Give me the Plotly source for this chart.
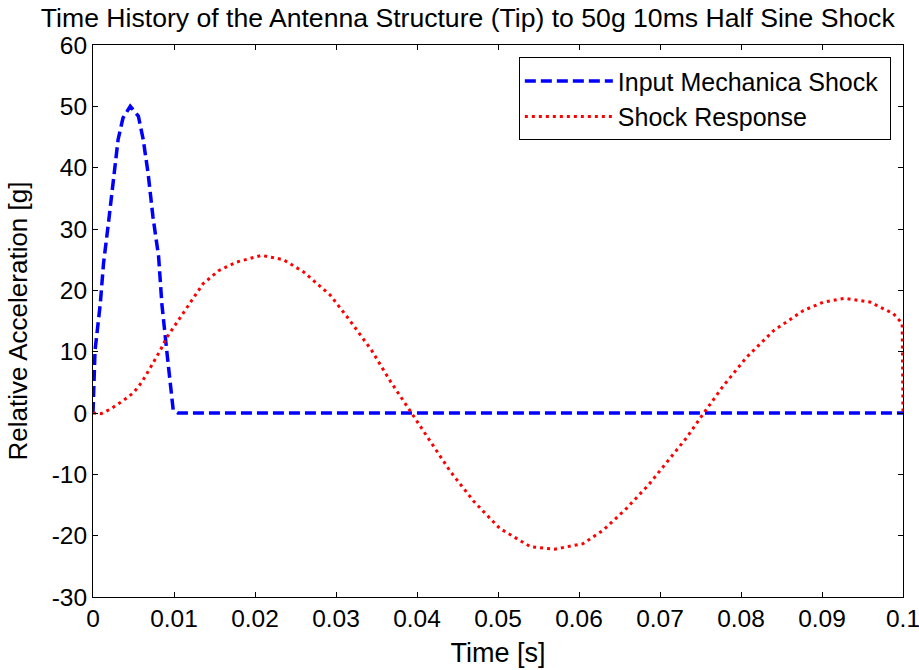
import plotly.graph_objects as go

# Input mechanical shock (half sine)
t_input = [0, 0.00025, 0.0009, 0.0013, 0.0019, 0.0025, 0.0031, 0.0037, 0.0046,
           0.0056, 0.0062, 0.0068, 0.0074, 0.0081, 0.0085, 0.0091, 0.0095,
           0.0099, 0.0105, 0.1]
a_input = [0, 10.2, 17.8, 24.4, 30.9, 38.0, 44.6, 48.1, 50.0,
           48.4, 44.6, 39.1, 32.0, 25.5, 17.8, 10.2, 4.7,
           0.5, 0, 0]

# Shock response
t_resp = [0, 0.001, 0.0021, 0.0037, 0.005, 0.006, 0.007, 0.0083, 0.0091,
          0.0105, 0.0116, 0.0136, 0.0155, 0.0177, 0.0208, 0.0235, 0.026,
          0.0293, 0.0317, 0.0344, 0.0367, 0.0393, 0.0416, 0.0441, 0.047,
          0.0502, 0.054, 0.057, 0.0605, 0.063, 0.0659, 0.0686, 0.0708,
          0.0733, 0.0753, 0.0778, 0.0807, 0.084, 0.0877, 0.0902, 0.0928,
          0.0959, 0.0988, 0.0999, 0.1]
a_resp = [0, -0.1, 0.6, 2.0, 3.3, 5.0, 7.2, 10.2, 12.3,
          15.1, 17.3, 21.1, 23.2, 24.6, 25.7, 25.0, 23.0,
          19.2, 15.1, 10.2, 5.2, 0.0, -4.6, -9.5, -14.4,
          -18.8, -21.8, -22.2, -21.3, -19.1, -15.5, -11.7, -8.1,
          -4.0, -0.2, 4.4, 9.1, 13.4, 16.7, 18.1, 18.7,
          18.1, 16.2, 14.6, 0]

x_ticks = [0, 0.01, 0.02, 0.03, 0.04, 0.05, 0.06, 0.07, 0.08, 0.09, 0.1]
x_ticklabels = ["0", "0.01", "0.02", "0.03", "0.04", "0.05", "0.06", "0.07", "0.08", "0.09", "0.1"]
y_ticks = [-30, -20, -10, 0, 10, 20, 30, 40, 50, 60]
y_ticklabels = ["-30", "-20", "-10", "0", "10", "20", "30", "40", "50", "60"]

FONT = "Liberation Sans, Arial, sans-serif"

fig = go.Figure()
fig.add_trace(go.Scatter(x=t_input, y=a_input, mode="lines", name="Input Mechanica Shock\u00a0",
                         line=dict(color="#0000ff", width=3.5, dash="11px,5px")))
fig.add_trace(go.Scatter(x=t_resp, y=a_resp, mode="lines", name="Shock Response",
                         line=dict(color="#ff0000", width=3, dash="3px,4px")))

axis_common = dict(showline=True, linecolor="black", linewidth=1, mirror="ticks",
                   ticks="inside", ticklen=5, tickcolor="black", showgrid=False,
                   zeroline=False, automargin=False, ticklabeloverflow="allow",
                   tickfont=dict(family=FONT, size=24.5, color="black"))

fig.update_layout(
    width=919, height=670,
    margin=dict(l=93, r=16, t=45, b=73),
    paper_bgcolor="white", plot_bgcolor="white",
    title=dict(text="Time History of the Antenna Structure (Tip) to 50g 10ms Half Sine Shock",
               font=dict(family=FONT, size=26.6, color="black"),
               x=0.509, xanchor="center", y=1 - 17.5 / 670, yanchor="middle"),
    xaxis=dict(range=[0, 0.1], tickvals=x_ticks, ticktext=x_ticklabels,
               title=dict(text="Time [s]", font=dict(family=FONT, size=27, color="black"), standoff=11),
               **axis_common),
    yaxis=dict(range=[-30, 60], tickvals=y_ticks, ticktext=y_ticklabels,
               title=dict(text="Relative Acceleration [g]", font=dict(family=FONT, size=26, color="black"), standoff=16),
               **axis_common),
    legend=dict(x=0.985, y=0.978, xanchor="right", yanchor="top",
                bgcolor="white", bordercolor="black", borderwidth=1,
                font=dict(family=FONT, size=25, color="black"),
                itemwidth=88, tracegroupgap=0),
    showlegend=True,
)

fig.write_html("out.html")
